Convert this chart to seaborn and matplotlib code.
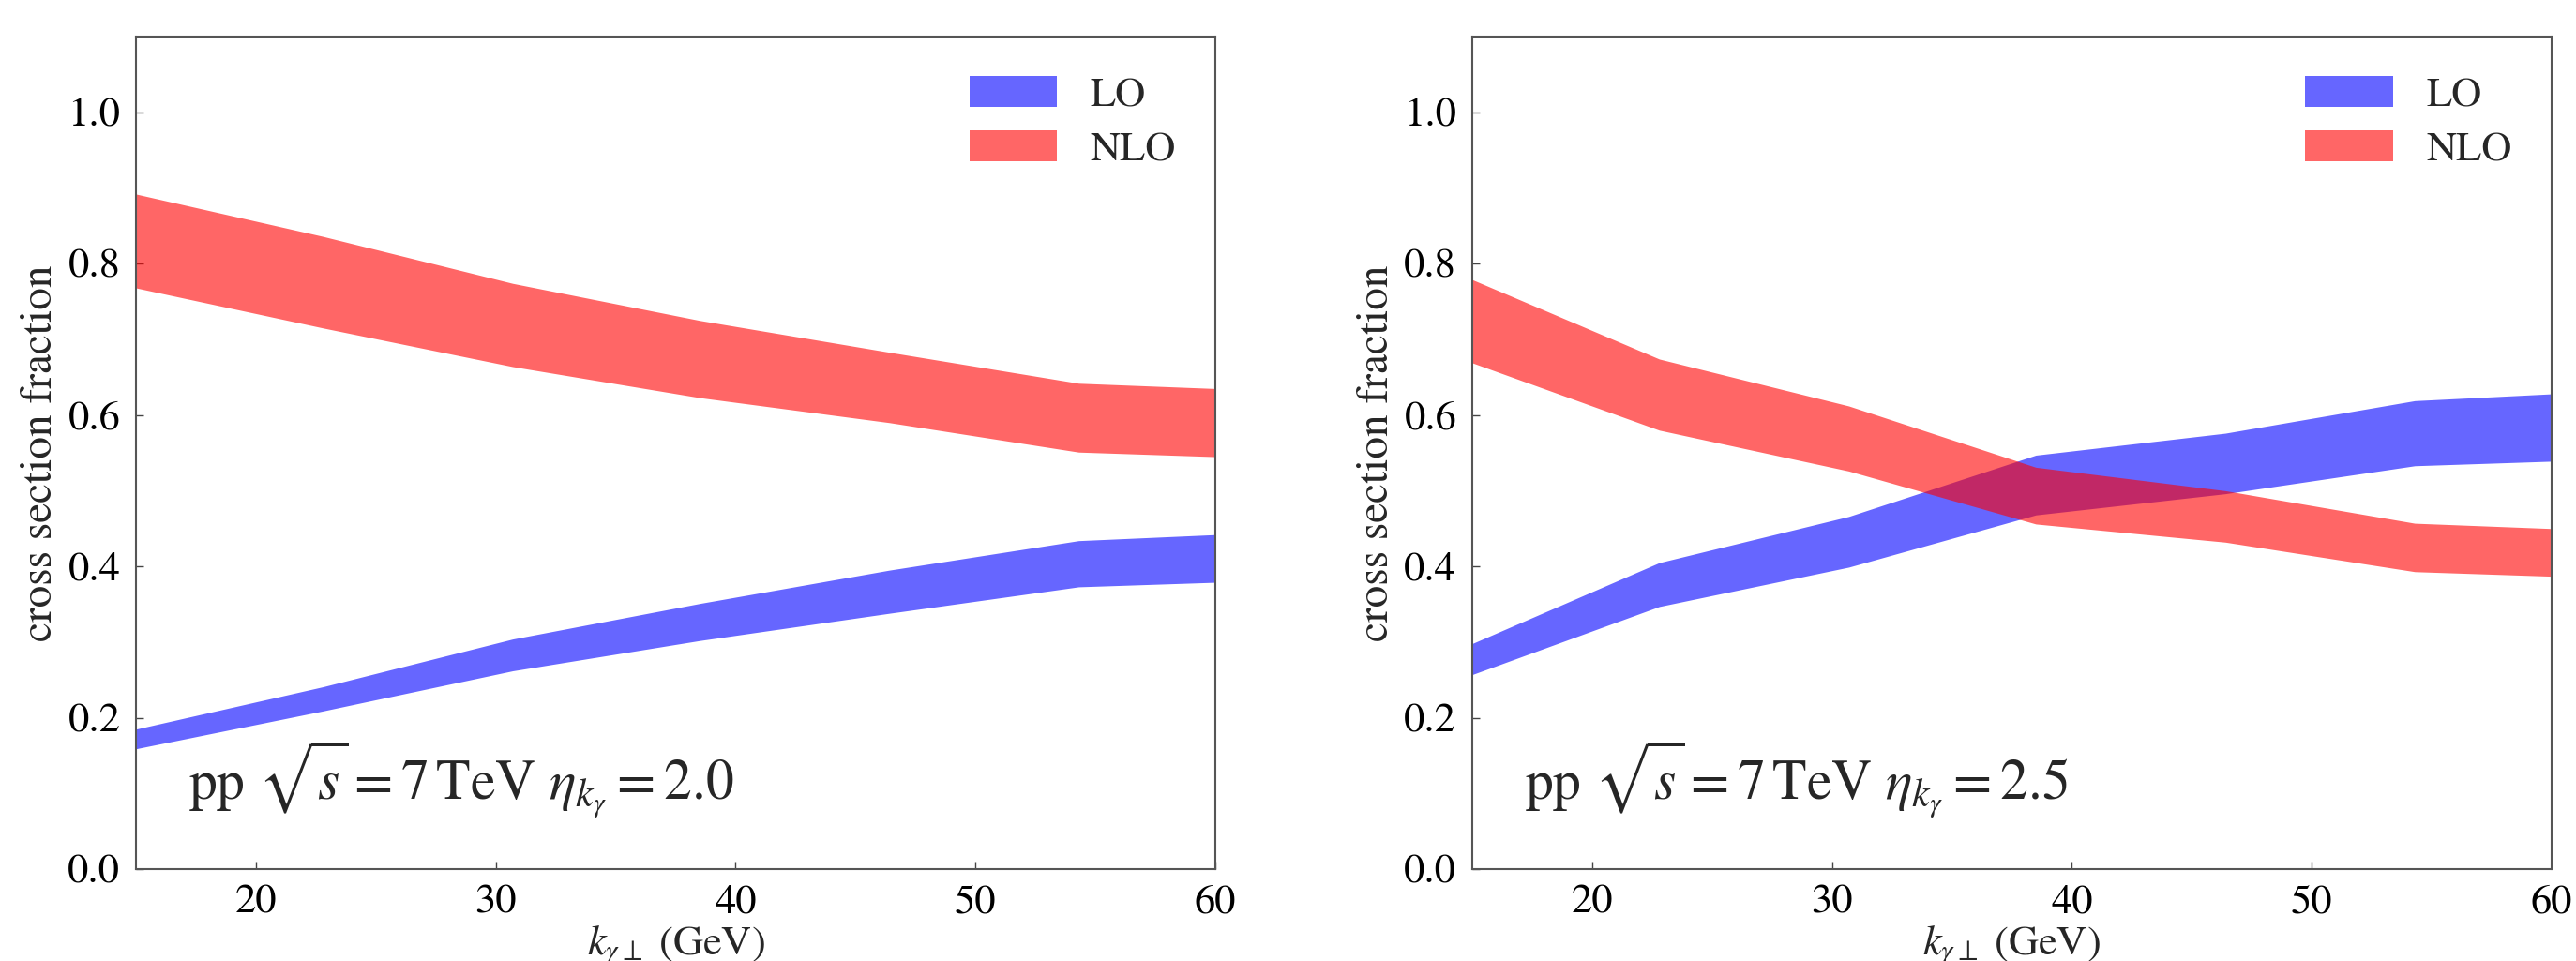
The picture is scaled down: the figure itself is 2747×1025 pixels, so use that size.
import matplotlib
matplotlib.use("Agg")
import matplotlib.pyplot as plt
import seaborn as sns
from matplotlib.patches import Patch

# photon transverse momentum grid (GeV)
kt = [15, 22.8, 30.7, 38.5, 46.4, 54.3, 60]

# eta = 2.0 panel
lo_20_low = [0.159, 0.209, 0.262, 0.302, 0.338, 0.373, 0.379]
lo_20_high = [0.185, 0.241, 0.304, 0.351, 0.395, 0.434, 0.442]
nlo_20_low = [0.768, 0.715, 0.664, 0.623, 0.590, 0.551, 0.545]
nlo_20_high = [0.892, 0.836, 0.774, 0.725, 0.683, 0.642, 0.635]

# eta = 2.5 panel
lo_25_low = [0.257, 0.347, 0.399, 0.468, 0.496, 0.533, 0.539]
lo_25_high = [0.298, 0.405, 0.466, 0.547, 0.576, 0.619, 0.628]
nlo_25_low = [0.669, 0.580, 0.526, 0.456, 0.432, 0.393, 0.387]
nlo_25_high = [0.779, 0.674, 0.612, 0.531, 0.500, 0.457, 0.450]

labels = ["LO", "NLO"]
etas = ["2.0", "2.5"]

sns.set_theme(style="ticks")
plt.rcParams["font.family"] = ["STIXGeneral", "DejaVu Serif"]
plt.rcParams["mathtext.fontset"] = "stix"

fig = plt.figure(figsize=(27.47, 10.25), dpi=100)
ax_left = fig.add_axes([0.0528, 0.0956, 0.419, 0.8663])
ax_right = fig.add_axes([0.5715, 0.0956, 0.419, 0.8663])

panels = [
    (ax_left, lo_20_low, lo_20_high, nlo_20_low, nlo_20_high, etas[0]),
    (ax_right, lo_25_low, lo_25_high, nlo_25_low, nlo_25_high, etas[1]),
]

for ax, lo_a, lo_b, nlo_a, nlo_b, eta in panels:
    ax.fill_between(kt, lo_a, lo_b, color="blue", alpha=0.6, linewidth=0)
    ax.fill_between(kt, nlo_a, nlo_b, color="red", alpha=0.6, linewidth=0)
    ax.set_xlim(15, 60)
    ax.set_ylim(0, 1.1)
    ax.set_xticks([20, 30, 40, 50, 60])
    ax.set_yticks([0.0, 0.2, 0.4, 0.6, 0.8, 1.0])
    ax.tick_params(direction="in", length=6, width=1, labelsize=32, pad=12,
                   colors="#444444", labelcolor="black")
    for sp in ax.spines.values():
        sp.set_color("#555555")
        sp.set_linewidth(1.5)
    ax.set_ylabel("cross section fraction", fontsize=34, labelpad=5)
    ax.set_xlabel(r"$k_{\gamma\perp}$ (GeV)", fontsize=32, labelpad=2)
    ax.text(17.2, 0.093, r"pp $\sqrt{s} = 7\,\mathrm{TeV}$ $\eta_{k_{\gamma}} = %s$" % eta,
            fontsize=43, va="baseline", ha="left")
    handles = [Patch(facecolor="blue", alpha=0.6, linewidth=0),
               Patch(facecolor="red", alpha=0.6, linewidth=0)]
    ax.legend(handles, labels, loc="upper right", frameon=False, fontsize=32,
              handlelength=2.1, handleheight=0.77, handletextpad=0.8,
              labelspacing=0.38, borderaxespad=0.55)

fig.savefig("out.png", dpi=100)
